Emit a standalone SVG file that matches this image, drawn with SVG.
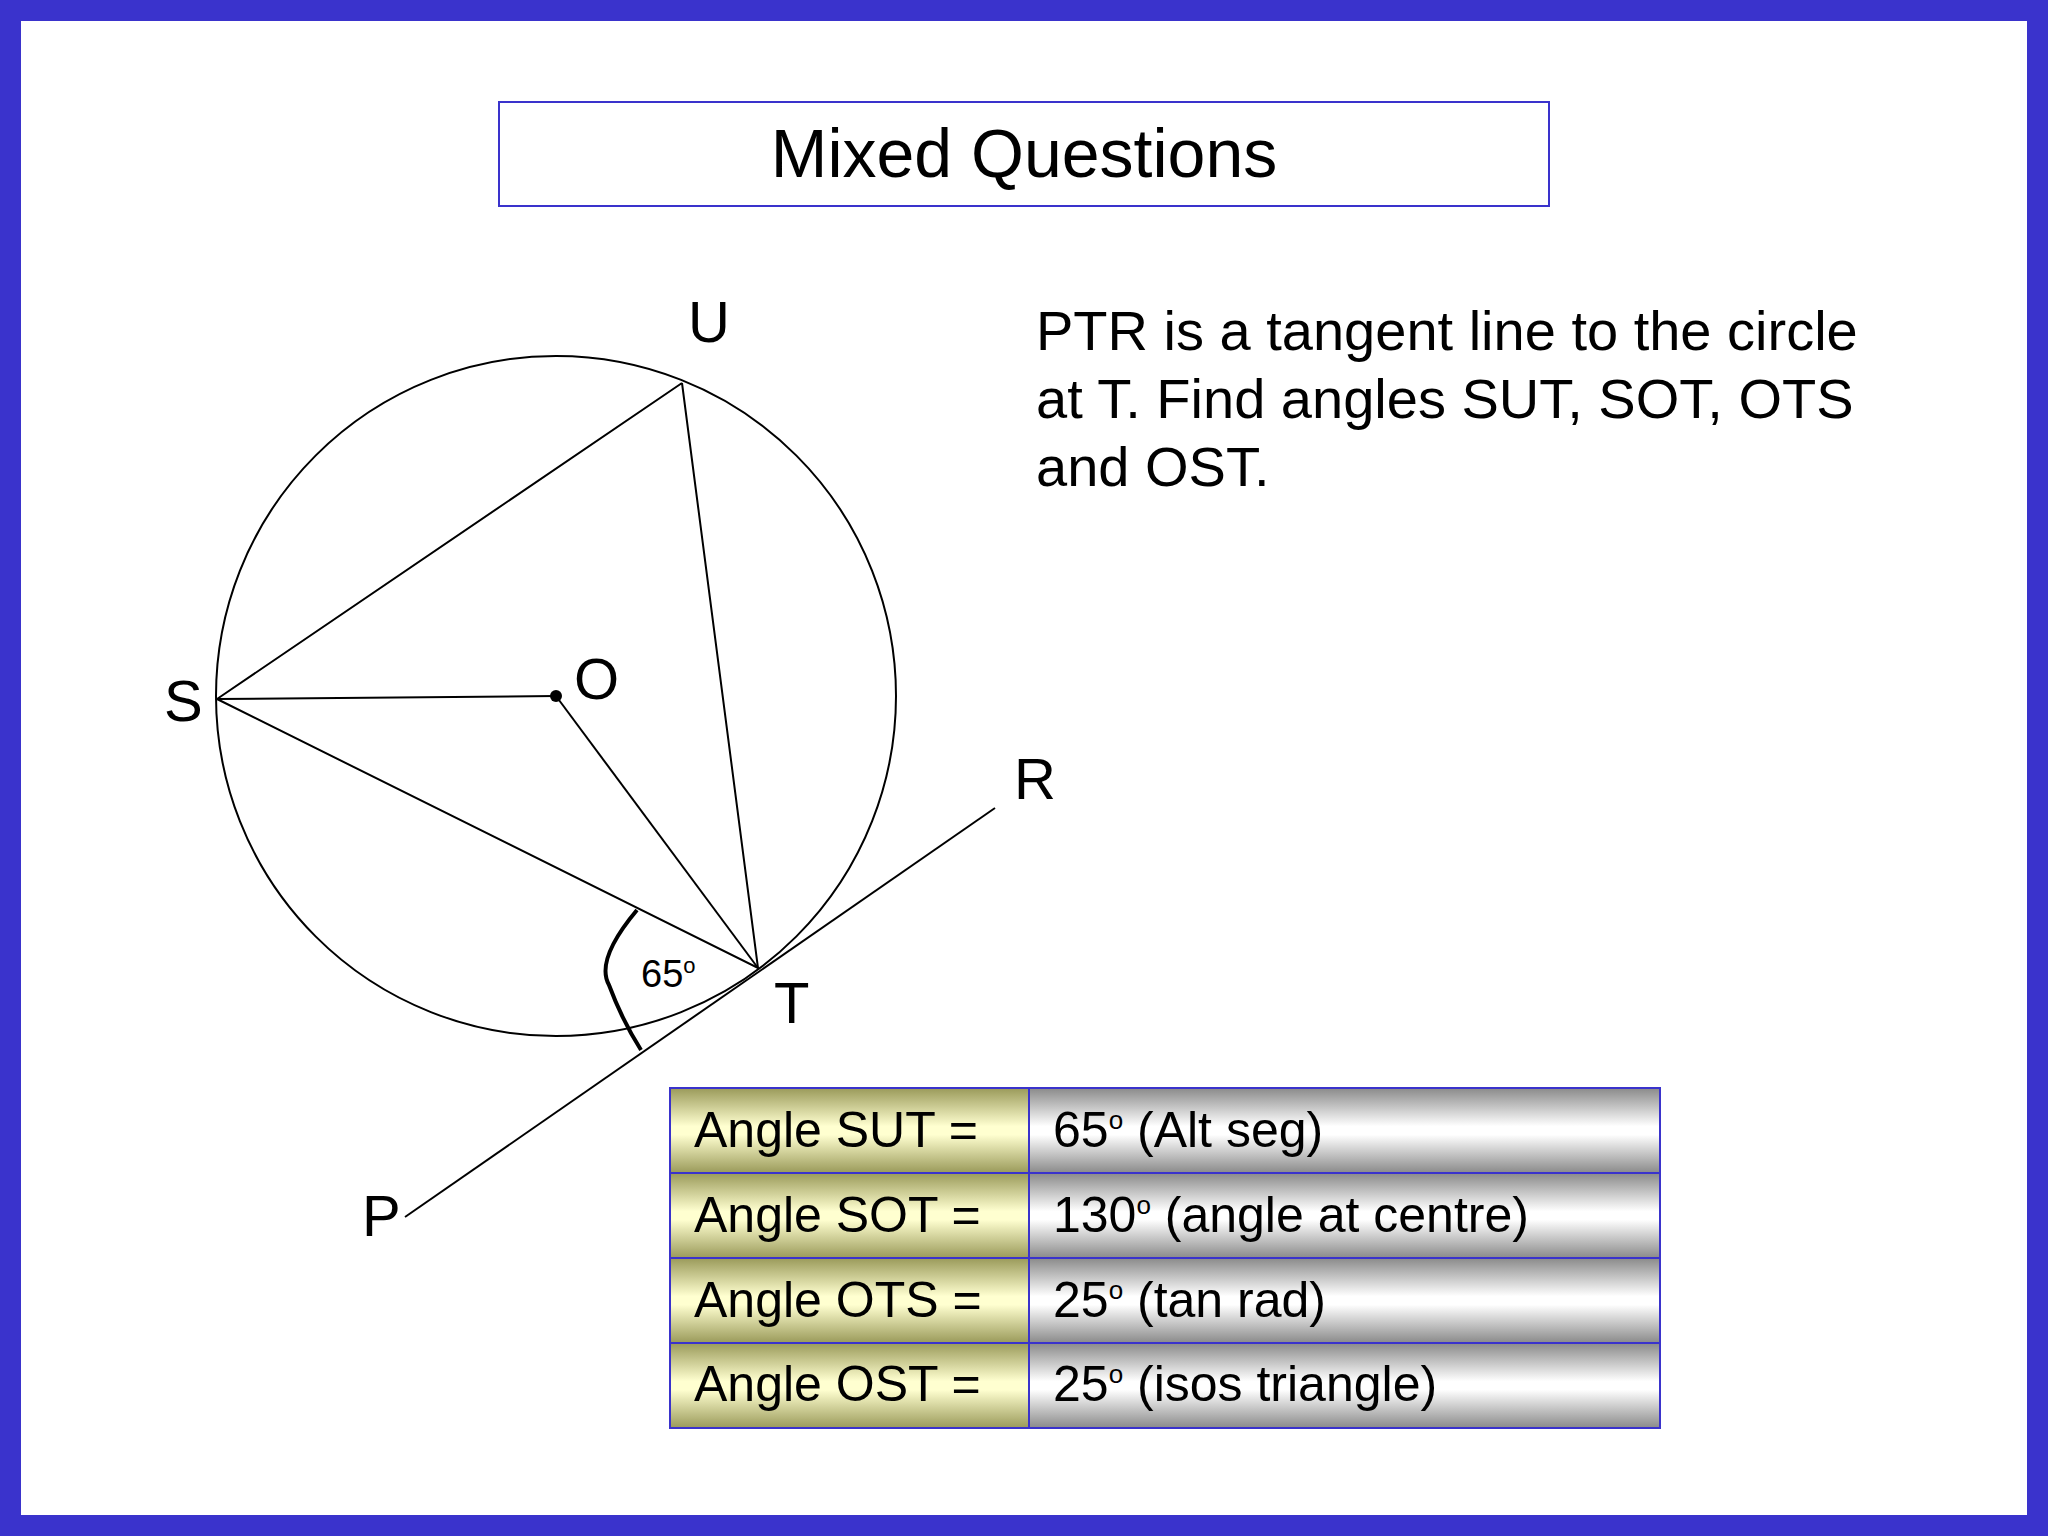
<svg xmlns="http://www.w3.org/2000/svg" width="2048" height="1536" viewBox="0 0 2048 1536">
<defs>
<linearGradient id="gy" x1="0" y1="0" x2="0" y2="1">
<stop offset="0" stop-color="#9a9a5a"/><stop offset="0.45" stop-color="#ffffd0"/><stop offset="0.55" stop-color="#ffffd0"/><stop offset="1" stop-color="#9a9a5a"/>
</linearGradient>
<linearGradient id="gg" x1="0" y1="0" x2="0" y2="1">
<stop offset="0" stop-color="#8a8a8a"/><stop offset="0.45" stop-color="#ffffff"/><stop offset="0.55" stop-color="#ffffff"/><stop offset="1" stop-color="#8a8a8a"/>
</linearGradient>
<style>
text{font-family:"Liberation Sans",Arial,sans-serif;fill:#000}
.lbl{font-size:58px}
.body{font-size:56px}
.cell{font-size:50px}
.ln{stroke:#000;stroke-width:2;fill:none}
.cy{fill:url(#gy);stroke:#3a33cc;stroke-width:2}
.cg{fill:url(#gg);stroke:#3a33cc;stroke-width:2}
</style>
</defs>
<rect x="0" y="0" width="2048" height="1536" fill="#3a33cc"/>
<rect x="21" y="21" width="2006" height="1494" fill="#fff"/>
<g id="title">
<rect x="499" y="102" width="1050" height="104" fill="#fff" stroke="#3a33cc" stroke-width="2"/>
<text x="1024" y="177" font-size="68" text-anchor="middle">Mixed Questions</text>
</g>
<g id="figure">
<circle cx="556" cy="696" r="340" class="ln"/>
<circle cx="556" cy="696" r="6" fill="#000"/>
</g>
<g id="connectors">
<polyline class="ln" points="682,383 217,699 758,968 682,383"/>
<line class="ln" x1="217" y1="699" x2="556" y2="696"/>
<line class="ln" x1="556" y1="696" x2="758" y2="968"/>
<line class="ln" x1="405" y1="1217" x2="995" y2="808"/>
<path d="M637,910 Q595,960 609,985 Q622,1020 641,1050" stroke="#000" stroke-width="4" fill="none"/>
</g>
<g id="labels">
<text class="lbl" x="688" y="342">U</text>
<text class="lbl" x="164" y="721">S</text>
<text class="lbl" x="574" y="699">O</text>
<text class="lbl" x="1014" y="799">R</text>
<text class="lbl" x="774" y="1023">T</text>
<text class="lbl" x="362" y="1236">P</text>
<text x="641" y="987" font-size="38">65<tspan font-size="22" dy="-14">o</tspan></text>
</g>
<g id="question">
<text class="body" x="1036" y="350">PTR is a tangent line to the circle</text>
<text class="body" x="1036" y="418">at T. Find angles SUT, SOT, OTS</text>
<text class="body" x="1036" y="486">and OST.</text>
</g>
<g id="table">
<rect class="cy" x="670" y="1088" width="359" height="85"/>
<rect class="cg" x="1029" y="1088" width="631" height="85"/>
<rect class="cy" x="670" y="1173" width="359" height="85"/>
<rect class="cg" x="1029" y="1173" width="631" height="85"/>
<rect class="cy" x="670" y="1258" width="359" height="85"/>
<rect class="cg" x="1029" y="1258" width="631" height="85"/>
<rect class="cy" x="670" y="1343" width="359" height="85"/>
<rect class="cg" x="1029" y="1343" width="631" height="85"/>
<text class="cell" x="694" y="1147">Angle SUT =</text>
<text class="cell" x="694" y="1232">Angle SOT =</text>
<text class="cell" x="694" y="1317">Angle OTS =</text>
<text class="cell" x="694" y="1401">Angle OST =</text>
<text class="cell" x="1053" y="1147">65<tspan font-size="26" dy="-18">o</tspan><tspan dy="18"> (Alt seg)</tspan></text>
<text class="cell" x="1053" y="1232">130<tspan font-size="26" dy="-18">o</tspan><tspan dy="18"> (angle at centre)</tspan></text>
<text class="cell" x="1053" y="1317">25<tspan font-size="26" dy="-18">o</tspan><tspan dy="18"> (tan rad)</tspan></text>
<text class="cell" x="1053" y="1401">25<tspan font-size="26" dy="-18">o</tspan><tspan dy="18"> (isos triangle)</tspan></text>
</g>
</svg>
